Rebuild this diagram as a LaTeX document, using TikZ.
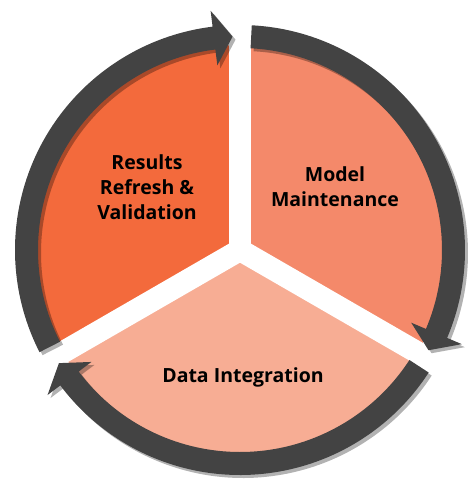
\documentclass[tikz,border=0pt]{standalone}
\usepackage{fontspec}
\setmainfont{Open Sans}
\usepackage{tikz}
\usetikzlibrary{shadows}

\definecolor{resultsorange}{HTML}{F36A3C}
\definecolor{modelorange}{HTML}{F4896A}
\definecolor{dataorange}{HTML}{F7AD94}
\definecolor{ringgray}{HTML}{434343}

\begin{document}
\begin{tikzpicture}[
    x=1pt, y=1pt,
    gapline/.style={draw=white, line width=22pt, line cap=round},
    ring/.style={fill=ringgray, drop shadow={shadow xshift=3pt, shadow yshift=-3pt, opacity=0.3, fill=black}},
    phase/.style={font=\fontsize{19.5}{25}\selectfont\bfseries, align=center, text=black}
]
    \useasboundingbox (-240,-237) rectangle (227,250);

    % sectors
    \fill[resultsorange] (0,0) -- (90:205pt) arc[start angle=90, end angle=210, radius=205pt] -- cycle;
    \fill[modelorange] (0,0) -- (-30:205pt) arc[start angle=-30, end angle=90, radius=205pt] -- cycle;
    \fill[dataorange] (0,0) -- (210:205pt) arc[start angle=210, end angle=330, radius=205pt] -- cycle;
    \foreach \a in {90,210,330}
        \draw[gapline] (0,0) -- (\a:212pt);

    % cycle arrows
    \foreach \s [evaluate=\s as \b using \s-110, evaluate=\s as \t using \s-115] in {207,87,-33}
        \fill[ring] (\s:202pt) arc[start angle=\s, end angle=\b, radius=202pt]
            -- (\b:186pt) -- (\t:213.5pt) -- (\b:241pt) -- (\b:225pt)
            arc[start angle=\b, end angle=\s, radius=225pt] -- cycle;

    \node[phase] (results) at (-93,63) {Results\\Refresh \&\\Validation};
    \node[phase] (model) at (95,63) {Model\\Maintenance};
    \node[phase] (data) at (3,-127) {Data Integration};
\end{tikzpicture}
\end{document}
